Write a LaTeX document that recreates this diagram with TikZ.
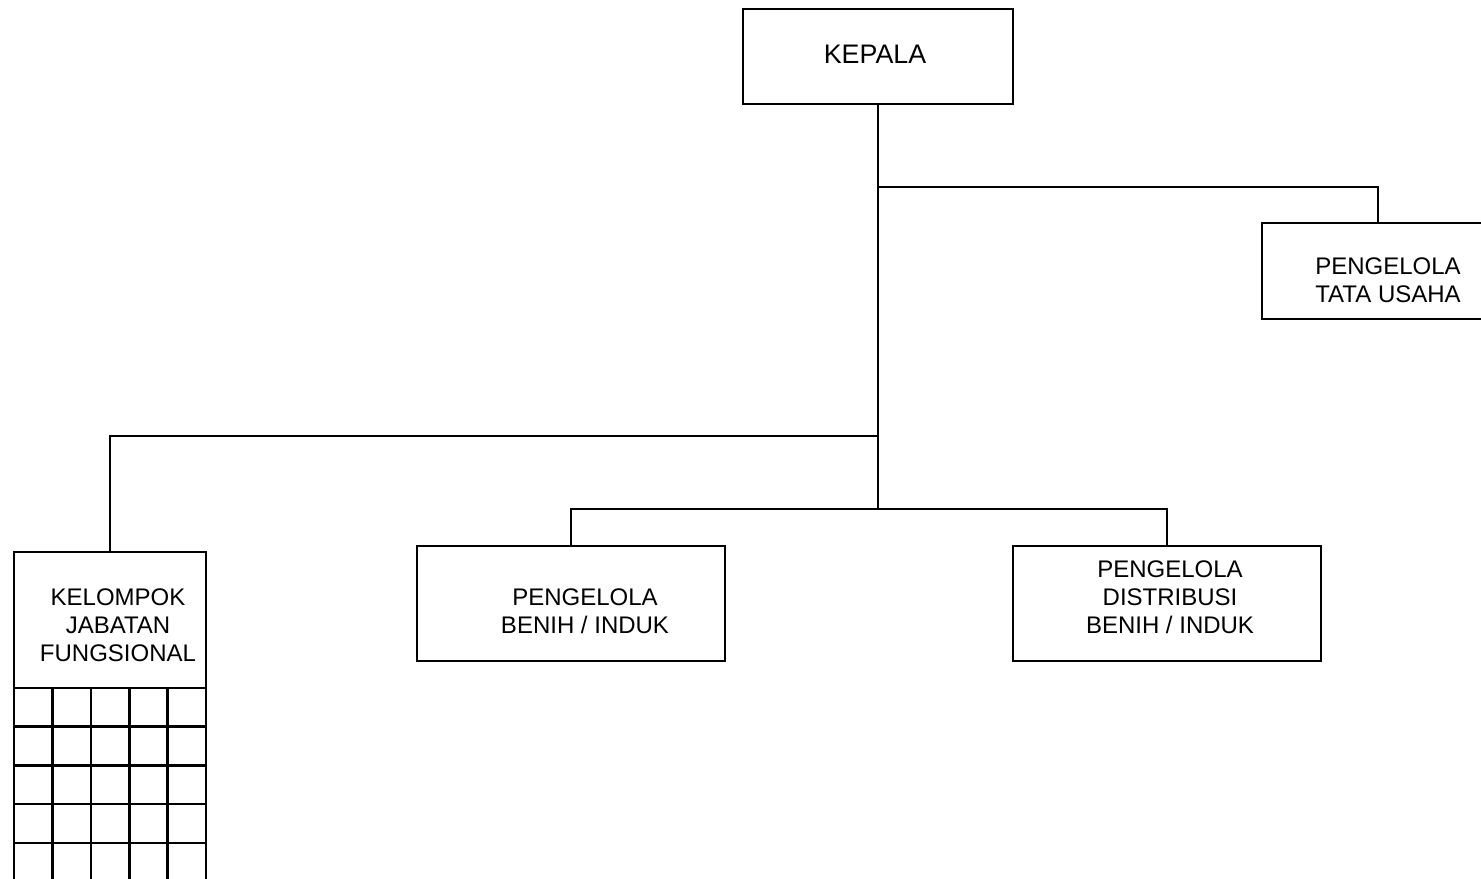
\documentclass[tikz,border=0pt]{standalone}
\usepackage{fontspec}
\setmainfont{Liberation Sans}
\usetikzlibrary{positioning}

\begin{document}
\begin{tikzpicture}[x=0.5pt,y=-0.5pt,line width=1.3pt,
      every node/.style={font=\fontsize{12}{14}\selectfont,align=center},
      unit/.style={draw,inner sep=0pt}]
      \useasboundingbox (0,0) rectangle (1481,878);
      \node[unit,minimum width=135pt,minimum height=47.5pt] (kepala) at (878,56.5) {};
      \node[unit,minimum width=126pt,minimum height=48pt] (tata) at (1388,271) {};
      \node[unit,minimum width=96pt,minimum height=68pt] (kelompok) at (110,620) {};
      \node[unit,minimum width=154pt,minimum height=57.5pt] (benih) at (571,603.5) {};
      \node[unit,minimum width=154pt,minimum height=57.5pt] (dist) at (1167,603.5) {};
      \node[font=\fontsize{13.4}{14}\selectfont] (kepala text) at (875,54) {KEPALA};
      \node (tata text) at (1388,280.5) {PENGELOLA\\ TATA USAHA};
      \node (kelompok text) at (118,625) {KELOMPOK\\JABATAN\\FUNGSIONAL};
      \node (benih text) at (585,611) {PENGELOLA\\ BENIH / INDUK};
      \node (dist text) at (1170,597.5) {PENGELOLA\\DISTRIBUSI\\ BENIH / INDUK};
      \coordinate (jtop) at (878,187);
      \coordinate (jleft) at (878,436);
      \coordinate (jbot) at (878,509);
      \draw (kepala) -- (jbot);
      \draw (jtop) -| ([xshift=-5pt]tata.north);
      \draw (jleft) -| (kelompok);
      \draw (jbot) -| (benih);
      \draw (jbot) -| (dist);
      % grid under the group box
      \foreach \i in {0,...,5}
        \draw (14+38.4*\i,688) -- (14+38.4*\i,890);
      \foreach \j in {1,...,5}
        \draw (14,688+38.7*\j) -- (206,688+38.7*\j);
\end{tikzpicture}
\end{document}
